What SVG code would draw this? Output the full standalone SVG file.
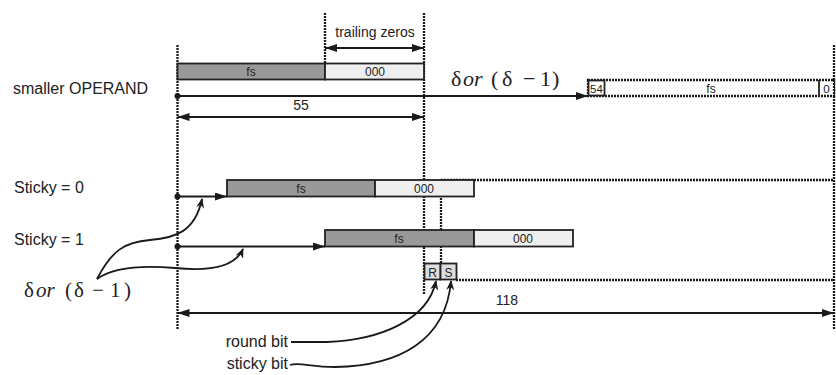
<svg xmlns="http://www.w3.org/2000/svg" width="836" height="375" viewBox="0 0 836 375">
<style>
.t{font-family:"Liberation Sans",Arial,sans-serif;fill:#222}
.s{font-family:"Liberation Serif","Times New Roman",serif;fill:#222}
.dash{stroke:#1a1a1a;stroke-width:2.3;stroke-dasharray:2,1;fill:none}
.ln{stroke:#1a1a1a;stroke-width:1.8;fill:none}
.dk{fill:#999;stroke:#222;stroke-width:1.8}
.lt{fill:#efefef;stroke:#222;stroke-width:1.8}
.rs{fill:#ddd;stroke:#222;stroke-width:1.8}
</style>
<defs>
<marker id="ah" viewBox="0 0 12 8" refX="12" refY="4" markerWidth="12" markerHeight="8" markerUnits="userSpaceOnUse" orient="auto-start-reverse">
<path d="M0,0 L12,4 L0,8 Z" fill="#1a1a1a"/>
</marker>
<marker id="ac" viewBox="0 0 10 8" refX="9" refY="4" markerWidth="10" markerHeight="8" markerUnits="userSpaceOnUse" orient="auto">
<path d="M0,0 L10,4 L0,8 L3,4 Z" fill="#1a1a1a"/>
</marker>
</defs>

<g id="guides">
<line class="dash" x1="177.5" y1="45" x2="177.5" y2="330"/>
<line class="dash" x1="325" y1="13" x2="325" y2="80"/>
<line class="dash" x1="424" y1="13" x2="424" y2="294"/>
<line class="dash" x1="834" y1="45" x2="834" y2="330"/>
<path class="dash" d="M441,180 H834 M456,280 H834 M441,180 V263"/>
</g>

<g id="labels">
<text class="t" x="13" y="94" font-size="16">smaller OPERAND</text>
<text class="t" x="14" y="193" font-size="16">Sticky = 0</text>
<text class="t" x="14" y="245" font-size="16">Sticky = 1</text>
<text class="t" x="375" y="37" font-size="14" text-anchor="middle">trailing zeros</text>
<text class="t" x="301" y="110" font-size="14" text-anchor="middle">55</text>
<text class="t" x="507" y="305" font-size="14" text-anchor="middle">118</text>
<text class="s" y="86" font-size="22"><tspan x="451">δ</tspan><tspan x="463" font-style="italic">or</tspan><tspan x="491">(</tspan><tspan x="502">δ</tspan><tspan x="523">−</tspan><tspan x="540">1</tspan><tspan x="552">)</tspan></text>
<text class="s" y="297" font-size="21"><tspan x="24">δ</tspan><tspan x="36" font-style="italic">or</tspan><tspan x="65">(</tspan><tspan x="74">δ</tspan><tspan x="92">−</tspan><tspan x="110">1</tspan><tspan x="124">)</tspan></text>
<text class="t" x="288" y="347" font-size="16" text-anchor="end">round bit</text>
<text class="t" x="288" y="369" font-size="16" text-anchor="end">sticky bit</text>
</g>

<g id="operand">
<rect class="dk" x="177.5" y="63.5" width="147.5" height="16"/>
<rect class="lt" x="325" y="63.5" width="99" height="16"/>
<text class="t" x="251" y="76" font-size="12" text-anchor="middle">fs</text>
<text class="t" x="375" y="76" font-size="12" text-anchor="middle">000</text>
</g>

<g id="shifted">
<rect x="588" y="80" width="246" height="16" fill="#fff" stroke="#1a1a1a" stroke-width="2.3" stroke-dasharray="2,1"/>
<rect x="588.5" y="80.5" width="16" height="15" fill="#fff" stroke="#222" stroke-width="1.8"/>
<line x1="819" y1="80" x2="819" y2="96" stroke="#222" stroke-width="1.8"/>
<text class="t" x="596.5" y="92.5" font-size="11.5" text-anchor="middle">54</text>
<text class="t" x="711" y="92.5" font-size="12" text-anchor="middle">fs</text>
<text class="t" x="826.5" y="92.5" font-size="11.5" text-anchor="middle">0</text>
</g>

<g id="sticky0">
<rect class="dk" x="227" y="180" width="148" height="16.5"/>
<rect class="lt" x="375" y="180" width="99" height="16.5"/>
<text class="t" x="301" y="193" font-size="12" text-anchor="middle">fs</text>
<text class="t" x="424" y="193" font-size="12" text-anchor="middle">000</text>
</g>

<g id="sticky1">
<rect class="dk" x="325" y="230" width="149" height="16.5"/>
<rect class="lt" x="474" y="230" width="99" height="16.5"/>
<text class="t" x="399" y="243" font-size="12" text-anchor="middle">fs</text>
<text class="t" x="523" y="243" font-size="12" text-anchor="middle">000</text>
</g>

<g id="rs">
<rect class="rs" x="424.5" y="263.5" width="16" height="16"/>
<rect class="rs" x="440.5" y="263.5" width="16" height="16"/>
<text class="t" x="432.5" y="276.5" font-size="12" text-anchor="middle">R</text>
<text class="t" x="448.5" y="276.5" font-size="12" text-anchor="middle">S</text>
</g>

<g id="connectors">
<line class="ln" x1="325" y1="48" x2="424" y2="48" marker-start="url(#ah)" marker-end="url(#ah)"/>
<line class="ln" x1="177.5" y1="96" x2="588" y2="96" marker-end="url(#ah)"/>
<line class="ln" x1="177.5" y1="117" x2="424" y2="117" marker-start="url(#ah)" marker-end="url(#ah)"/>
<line class="ln" x1="177.5" y1="196.5" x2="227" y2="196.5" marker-end="url(#ah)"/>
<line class="ln" x1="177.5" y1="246.5" x2="325" y2="246.5" marker-end="url(#ah)"/>
<line class="ln" x1="177.5" y1="313" x2="834" y2="313" marker-start="url(#ah)" marker-end="url(#ah)"/>
<circle cx="177.5" cy="96" r="3" fill="#1a1a1a"/>
<circle cx="177.5" cy="196.5" r="3" fill="#1a1a1a"/>
<circle cx="177.5" cy="246.5" r="3" fill="#1a1a1a"/>
<path class="ln" d="M97,279 C112,250 125,242 150,240 C175,238 195,232 202,199" marker-end="url(#ac)"/>
<path class="ln" d="M97,279 C112,268 140,265 175,268 C215,272 236,265 243,249" marker-end="url(#ac)"/>
<path class="ln" d="M291,342 L327,342 C380,340 428,320 436,281" marker-end="url(#ac)"/>
<path class="ln" d="M290,365 C300,362 310,367 335,367 C400,366 446,340 451,281" marker-end="url(#ac)"/>
</g>
</svg>
